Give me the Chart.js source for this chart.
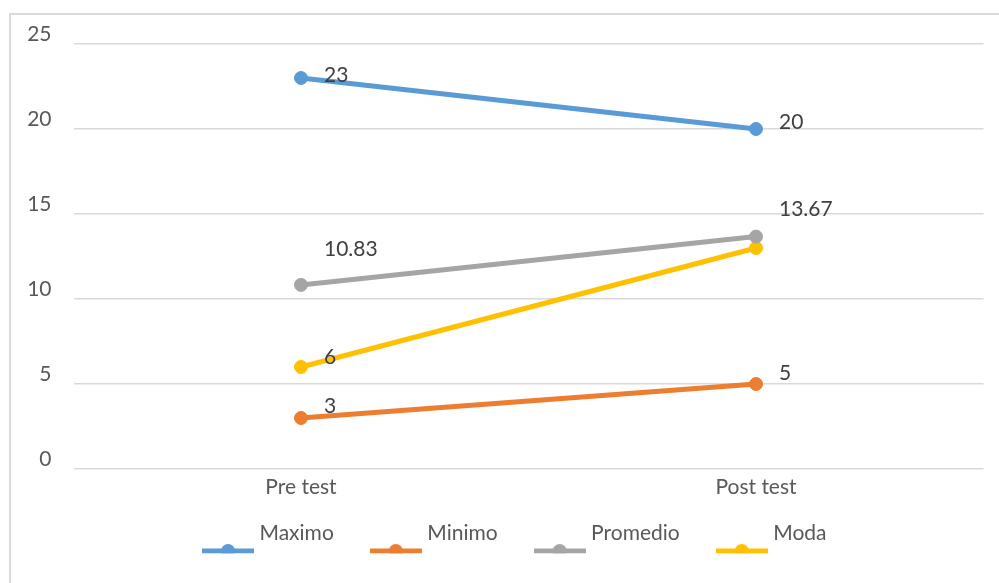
<!DOCTYPE html>
<html><head><meta charset="utf-8">
<script src="https://cdn.jsdelivr.net/npm/chart.js@4.4.1/dist/chart.umd.min.js"></script>
<style>
html,body{margin:0;padding:0;background:#fff;width:999px;height:583px;overflow:hidden}
#frame{position:absolute;left:9px;top:13px;width:1200px;height:800px;border:2px solid #d9d9d9;box-sizing:border-box}
#wrap{position:absolute;left:0;top:0;width:999px;height:583px}
</style></head><body>
<div id="frame"></div>
<div id="wrap"><canvas id="c" width="999" height="583"></canvas></div>
<script>
// ---- data ----
const categories = ['Pre test', 'Post test'];
const seriesNames = ['Maximo', 'Minimo', 'Promedio', 'Moda'];
const maximo = [23, 20];
const minimo = [3, 5];
const promedio = [10.83, 13.67];
const moda = [6, 13];
const yMin = 0, yMax = 25, yStep = 5;

// ---- styles ----
const colors = ['#5B9BD5', '#ED7D31', '#A5A5A5', '#FFC000'];
const FONT = 'Lato, Calibri, "Liberation Sans", sans-serif';
// per-point label vertical nudges and visibility (style, not data)
const labelDy = [[-3, -7], [-12, -11], [-36, -27], [-10, 0]];
const labelShow = [[true, true], [true, true], [true, true], [true, false]];

function makeMarker(color) {
  const c = document.createElement('canvas');
  c.width = 52; c.height = 52;
  const g = c.getContext('2d');
  const y = 44;
  g.strokeStyle = color; g.lineWidth = 5;
  g.beginPath(); g.moveTo(0, y); g.lineTo(52, y); g.stroke();
  g.fillStyle = color;
  g.beginPath(); g.arc(26, y, 7, 0, Math.PI * 2); g.fill();
  return c;
}
const markers = colors.map(makeMarker);

const seriesData = [maximo, minimo, promedio, moda];
const datasets = seriesNames.map((name, i) => ({
  label: name,
  data: seriesData[i],
  borderColor: colors[i],
  backgroundColor: colors[i],
  borderWidth: 5,
  pointRadius: 6.5,
  pointHoverRadius: 6.5,
  pointBorderWidth: 1,
  pointBackgroundColor: colors[i],
  pointBorderColor: colors[i],
  tension: 0
}));

const dataLabelPlugin = {
  id: 'dataLabels',
  afterDatasetsDraw(chart) {
    const ctx = chart.ctx;
    ctx.save();
    ctx.font = '21px ' + FONT;
    ctx.fillStyle = '#404040';
    ctx.textAlign = 'left';
    ctx.textBaseline = 'middle';
    chart.data.datasets.forEach((ds, i) => {
      const meta = chart.getDatasetMeta(i);
      meta.data.forEach((pt, j) => {
        if (!labelShow[i][j]) return;
        ctx.fillText(String(ds.data[j]), pt.x + 23, pt.y + labelDy[i][j]);
      });
    });
    ctx.restore();
  }
};

const legendShift = {
  id: 'legendShift',
  afterLayout(chart) {
    const lg = chart.legend;
    if (lg) { lg.left += 25; lg.right += 25; lg.top -= 15; lg.bottom -= 15; }
  }
};

new Chart(document.getElementById('c'), {
  type: 'line',
  data: { labels: categories, datasets },
  options: {
    responsive: false,
    devicePixelRatio: 1,
    animation: false,
    layout: { padding: { left: 0, right: 15.5, top: 44, bottom: 14.5 } },
    plugins: {
      tooltip: { enabled: false },
      legend: {
        position: 'bottom',
        labels: {
          font: { family: FONT, size: 21 },
          color: '#595959',
          padding: 41,
          usePointStyle: true,
          pointStyleWidth: 42,
          generateLabels(chart) {
            const items = Chart.defaults.plugins.legend.labels.generateLabels(chart);
            items.forEach((it, i) => { it.pointStyle = markers[i]; });
            return items;
          }
        }
      }
    },
    scales: {
      x: {
        offset: true,
        grid: { display: false },
        border: { display: false },
        ticks: { font: { family: FONT, size: 21, lineHeight: 1 }, color: '#595959', padding: 0 },
        afterFit(scale) { scale.height = 27.5; }
      },
      y: {
        min: yMin, max: yMax,
        grid: { color: '#d9d9d9', lineWidth: 1.5, drawTicks: false },
        border: { display: false },
        ticks: { stepSize: yStep, autoSkip: false, font: { family: FONT, size: 21 }, color: '#595959', padding: 22, labelOffset: -10 },
        afterFit(scale) { scale.width = 73.5; }
      }
    }
  },
  plugins: [dataLabelPlugin, legendShift]
});
</script>
</body></html>
